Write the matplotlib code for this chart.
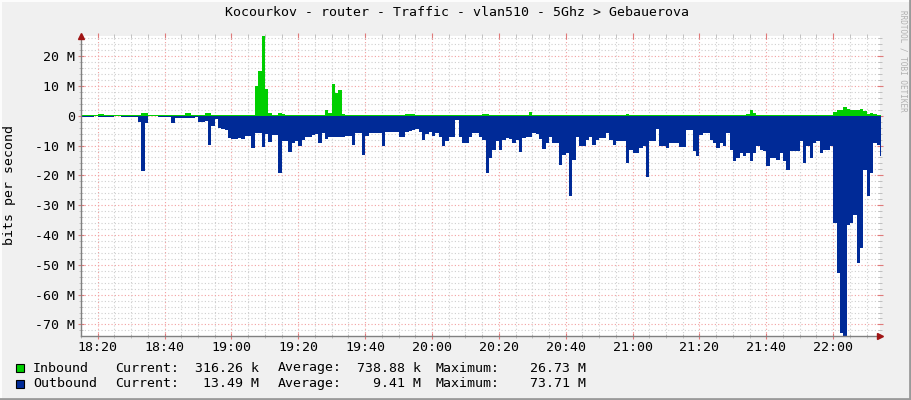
import numpy as np
import matplotlib.pyplot as plt
from matplotlib.lines import Line2D
from matplotlib.patches import Rectangle
from matplotlib.ticker import MultipleLocator, FuncFormatter

# traffic in Mbit/s, one sample per minute starting 18:15
start_time = "18:15"
inbound = [
    0.2, 0.2, 0.3, 0.2, 0.3, 0.6, 0.6, 0.3, 0.2, 0.2,
    0.2, 0.3, 0.2, 0.2, 0.3, 0.2, 0.2, 0.3, 0.9, 0.9,
    0.3, 0.2, 0.2, 0.3, 0.2, 0.2, 0.2, 0.2, 0.3, 0.3,
    0.4, 1.0, 1.0, 0.3, 0.2, 0.2, 0.2, 1.0, 0.9, 0.3,
    0.2, 0.2, 0.2, 0.2, 0.1, 0.1, 0.1, 0.1, 0.1, 0.1,
    0.2, 0.3, 10.1, 14.9, 26.73, 9.0, 0.9, 0.3, 0.2, 0.8,
    0.5, 0.3, 0.2, 0.2, 0.2, 0.2, 0.2, 0.3, 0.2, 0.2,
    0.2, 0.3, 0.3, 2.0, 0.8, 10.7, 7.6, 8.5, 0.6, 0.3,
    0.2, 0.2, 0.2, 0.3, 0.3, 0.2, 0.2, 0.2, 0.2, 0.2,
    0.2, 0.2, 0.2, 0.2, 0.2, 0.2, 0.3, 0.7, 0.7, 0.5,
    0.3, 0.2, 0.3, 0.4, 0.4, 0.2, 0.3, 0.2, 0.2, 0.2,
    0.3, 0.3, 0.2, 0.2, 0.2, 0.4, 0.4, 0.3, 0.2, 0.3,
    0.6, 0.6, 0.3, 0.2, 0.3, 0.3, 0.3, 0.2, 0.2, 0.3,
    0.3, 0.3, 0.2, 0.3, 1.1, 0.4, 0.3, 0.3, 0.3, 0.2,
    0.3, 0.3, 0.3, 0.3, 0.2, 0.3, 0.3, 0.3, 0.4, 0.4,
    0.3, 0.3, 0.2, 0.2, 0.3, 0.4, 0.3, 0.2, 0.2, 0.3,
    0.3, 0.3, 0.4, 0.6, 0.4, 0.3, 0.3, 0.3, 0.2, 0.2,
    0.3, 0.3, 0.3, 0.2, 0.2, 0.3, 0.3, 0.3, 0.3, 0.2,
    0.2, 0.3, 0.3, 0.3, 0.2, 0.2, 0.3, 0.3, 0.3, 0.3,
    0.2, 0.2, 0.3, 0.3, 0.3, 0.2, 0.3, 0.3, 0.3, 0.5,
    2.0, 0.8, 0.4, 0.3, 0.3, 0.3, 0.2, 0.3, 0.3, 0.3,
    0.3, 0.3, 0.2, 0.2, 0.2, 0.3, 0.3, 0.3, 0.3, 0.3,
    0.3, 0.3, 0.3, 0.2, 0.2, 1.4, 1.8, 2.0, 2.8, 2.3,
    1.8, 2.0, 1.9, 2.2, 1.6, 0.6, 0.9, 0.5, 0.4, 0.32,
]
outbound = [
    0.3, 0.3, 0.3, 0.3, 0.2, 0.3, 0.3, 0.5, 0.4, 0.3,
    0.2, 0.2, 0.3, 0.4, 0.3, 0.3, 0.4, 2.2, 18.7, 2.5,
    0.2, 0.2, 0.2, 0.4, 0.3, 0.3, 0.3, 2.4, 0.8, 0.8,
    0.8, 0.7, 0.7, 0.8, 0.6, 2.2, 2.0, 1.9, 9.7, 3.6,
    1.0, 4.2, 4.5, 4.7, 7.5, 7.7, 7.8, 7.6, 7.7, 6.9,
    6.9, 10.8, 5.8, 5.8, 10.5, 6.3, 8.8, 6.4, 6.4, 19.2,
    8.5, 8.5, 12.3, 9.0, 8.5, 10.0, 8.3, 7.3, 7.3, 6.5,
    6.0, 9.0, 5.8, 7.8, 7.2, 7.2, 7.2, 7.2, 7.2, 6.7,
    6.7, 9.7, 5.8, 5.8, 13.1, 6.8, 5.8, 5.8, 5.8, 5.8,
    10.0, 5.3, 5.3, 5.3, 5.3, 7.2, 7.2, 5.5, 5.0, 4.7,
    4.5, 5.3, 8.3, 6.3, 5.3, 6.9, 5.8, 7.2, 10.0, 8.6,
    7.0, 7.0, 1.3, 7.0, 9.0, 9.0, 7.0, 5.8, 5.8, 7.0,
    8.0, 19.2, 14.2, 11.4, 8.6, 11.4, 8.0, 7.5, 7.8, 9.2,
    8.0, 12.3, 7.5, 7.0, 7.0, 5.8, 6.3, 7.8, 11.2, 9.2,
    7.0, 9.2, 9.2, 16.4, 13.1, 12.5, 27.0, 14.8, 7.0, 10.3,
    10.3, 8.0, 7.0, 9.7, 8.0, 7.5, 7.5, 5.8, 8.0, 9.7,
    8.6, 8.6, 8.6, 15.9, 11.4, 12.5, 12.5, 10.8, 10.3, 20.4,
    8.6, 8.6, 4.5, 10.3, 10.3, 10.8, 9.0, 9.2, 9.2, 10.5,
    10.5, 4.7, 4.7, 12.0, 13.6, 6.4, 5.8, 5.8, 8.0, 9.2,
    10.8, 9.2, 10.3, 5.8, 11.4, 15.3, 14.2, 12.5, 13.6, 12.5,
    15.3, 12.5, 10.3, 11.4, 12.0, 17.0, 14.2, 14.2, 14.8, 12.5,
    15.3, 18.1, 12.0, 12.0, 12.0, 8.6, 15.9, 10.3, 14.2, 9.2,
    8.6, 12.5, 11.4, 11.4, 10.3, 36.0, 52.8, 72.8, 73.71, 36.6,
    36.0, 33.2, 49.4, 44.4, 18.1, 27.0, 19.2, 9.2, 9.7, 13.49,
]
time_labels = ["18:20", "18:40", "19:00", "19:20", "19:40", "20:00",
               "20:20", "20:40", "21:00", "21:20", "21:40", "22:00"]
y_ticks = [20, 10, 0, -10, -20, -30, -40, -50, -60, -70]

title = "Kocourkov - router - Traffic - vlan510 - 5Ghz > Gebauerova"
legend_rows = [
    ("Inbound", "316.26 k", "738.88 k", "26.73 M"),
    ("Outbound", "13.49 M", "9.41 M", "73.71 M"),
]
colors = ["#00CF00", "#002A97"]


def to_min(hhmm):
    h, m = hhmm.split(":")
    return int(h) * 60 + int(m)


t0 = to_min(start_time)
n = len(outbound)
x = np.arange(n + 1)
inb = np.array(inbound + [inbound[-1]])
outb = -np.array(outbound + [outbound[-1]])

mono = "DejaVu Sans Mono"
W, H = 911, 400
fig = plt.figure(figsize=(W / 100, H / 100), dpi=100, facecolor="#F0F0F0")
ax = fig.add_axes([81 / W, 1 - 335.5 / H, 799 / W, 299.5 / H])
ax.set_facecolor("white")

ax.fill_between(x, 0, inb, step="post", color=colors[0], linewidth=0, zorder=2)
ax.fill_between(x, 0, outb, step="post", color=colors[1], linewidth=0, zorder=3)

ax.set_xlim(0, n - 1)
ax.set_ylim(-73.71, 26.73)

ax.set_xticks([to_min(t) - t0 for t in time_labels])
ax.set_xticklabels(time_labels)
ax.xaxis.set_minor_locator(MultipleLocator(5))
ax.set_yticks(y_ticks)
ax.yaxis.set_major_formatter(FuncFormatter(lambda v, p: "0" if v == 0 else f"{v:.0f} M"))
ax.yaxis.set_minor_locator(MultipleLocator(2))

ax.set_axisbelow(True)
ax.grid(which="minor", color="#cfcfcf", linestyle=(0, (1, 2)), linewidth=0.8)
ax.grid(which="major", color="#f2a0a0", linestyle=(0, (1, 2)), linewidth=0.8)

for s in ["top", "right"]:
    ax.spines[s].set_visible(False)
for s in ["left", "bottom"]:
    ax.spines[s].set_color("#808080")
    ax.spines[s].set_linewidth(1.0)
    ax.spines[s].set_zorder(5)

# rrdtool puts short solid marks at both ends of every grid line
ax.tick_params(which="both", direction="inout", top=True, right=True, labelsize=9.5)
ax.tick_params(which="major", length=4, pad=2, color="#e07a7a")
ax.tick_params(which="minor", length=3, color="#b8b8b8")
for lab in ax.get_xticklabels() + ax.get_yticklabels():
    lab.set_family(mono)

# axis arrows
ax.plot([1.0], [0], marker=">", ms=5, color="#a01515", transform=ax.transAxes,
        clip_on=False, zorder=6)
ax.plot([0], [1.0], marker="^", ms=5, color="#a01515", transform=ax.transAxes,
        clip_on=False, zorder=6)

fig.text(457 / W, 1 - 13 / H, title, ha="center", va="center", family=mono, size=9.5)
fig.text(10 / W, 1 - 185 / H, "bits per second", rotation=90, ha="center",
         va="center", family=mono, size=9.5)
fig.text(903 / W, 1 - 61 / H, "RRDTOOL / TOBI OETIKER", rotation=270, ha="center",
         va="center", family=mono, size=5.5, color="#b0b0b0")

# legend
for i, (name, cur, avg, mx) in enumerate(legend_rows):
    yc = 1 - (368 + 15.5 * i) / H
    fig.patches.append(Rectangle((16 / W, yc - 4 / H), 8 / W, 8 / H, transform=fig.transFigure,
                                 facecolor=colors[i], edgecolor="black", linewidth=0.8))
    fig.text(33 / W, yc, name, va="center", family=mono, size=9.5)
    fig.text(115 / W, yc, "Current:", va="center", family=mono, size=9.5)
    fig.text(259 / W, yc, cur, va="center", ha="right", family=mono, size=9.5)
    fig.text(278 / W, yc, "Average:", va="center", family=mono, size=9.5)
    fig.text(421 / W, yc, avg, va="center", ha="right", family=mono, size=9.5)
    fig.text(436 / W, yc, "Maximum:", va="center", family=mono, size=9.5)
    fig.text(586 / W, yc, mx, va="center", ha="right", family=mono, size=9.5)

# rrdtool style frame shading
fig.add_artist(Line2D([0, 1], [1 - 0.5 / H, 1 - 0.5 / H], transform=fig.transFigure, color="#fcfcfc", lw=1.5))
fig.add_artist(Line2D([0.5 / W, 0.5 / W], [0, 1], transform=fig.transFigure, color="#fcfcfc", lw=1.5))
fig.add_artist(Line2D([0, 1], [1.2 / H, 1.2 / H], transform=fig.transFigure, color="#9a9a9a", lw=2))
fig.add_artist(Line2D([1 - 1.2 / W, 1 - 1.2 / W], [0, 1], transform=fig.transFigure, color="#9a9a9a", lw=2))

fig.savefig("out.png", dpi=100, facecolor=fig.get_facecolor())
